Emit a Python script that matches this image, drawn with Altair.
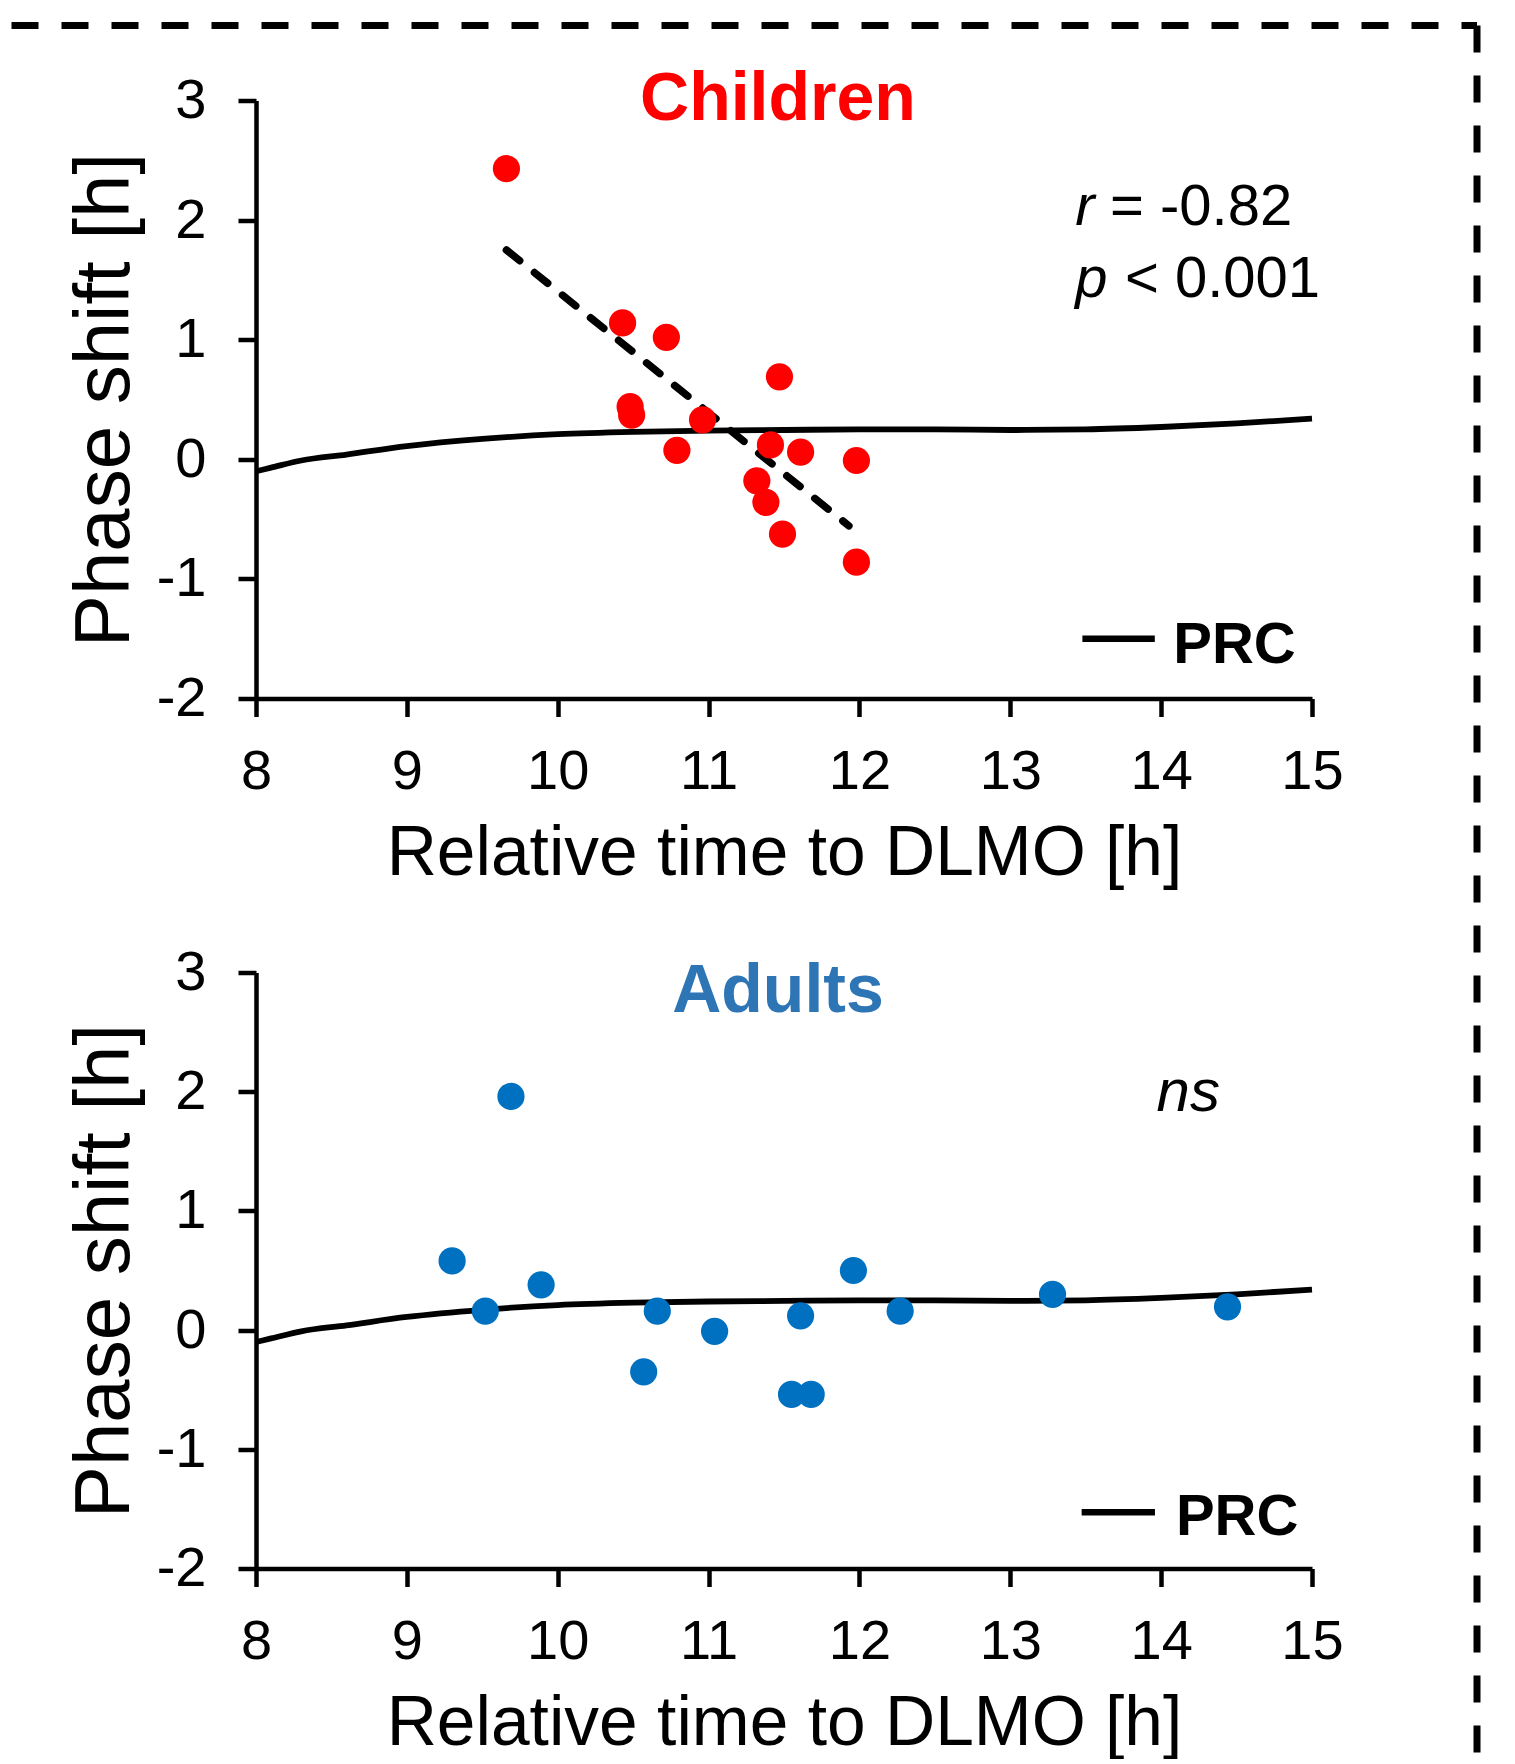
import altair as alt
import pandas as pd

FONT = "Liberation Sans"

# ---------------- data ----------------
child_x = [9.66, 10.43, 10.72, 11.47, 10.48, 10.49, 10.96, 10.79, 11.41, 11.61, 11.98, 11.32, 11.38, 11.49, 11.98]
child_y = [2.43, 1.14, 1.02, 0.69, 0.44, 0.37, 0.33, 0.075, 0.12, 0.06, -0.01, -0.18, -0.36, -0.625, -0.86]

adult_x = [9.69, 9.30, 9.89, 9.52, 10.66, 11.04, 10.57, 11.61, 11.96, 12.27, 11.55, 11.68, 13.28, 14.44]
adult_y = [1.96, 0.58, 0.38, 0.16, 0.16, -0.01, -0.35, 0.12, 0.50, 0.16, -0.54, -0.54, 0.30, 0.195]

prc_x = [8.0, 8.1, 8.3, 8.6, 9.0, 9.5, 10.0, 10.5, 11.0, 11.5, 12.0, 12.5, 13.0, 13.5, 14.0, 14.5, 15.0]
prc_y = [-0.10, -0.07, -0.01, 0.04, 0.11, 0.17, 0.21, 0.23, 0.24, 0.245, 0.25, 0.25, 0.245, 0.25, 0.27, 0.30, 0.34]

fit_x = [9.66, 11.93]
fit_y = [1.75, -0.556]

x_ticks = [8, 9, 10, 11, 12, 13, 14, 15]
y_ticks = [-2, -1, 0, 1, 2, 3]

# annotations (data coordinates)
children_label = ["Children", 11.46, 2.833]
adults_label = ["Adults", 11.46, 2.667]
stat_italic = ["r", "p"]
stat_rest = ["= -0.82", "< 0.001"]
stat_italic_x = [13.43, 13.43]
stat_rest_x = [13.661, 13.76]
stat_y = [1.955, 1.353]
ns_label = ["ns", 13.97, 1.842]
legend_top = {"x1": 13.478, "x2": 13.958, "y": -1.50, "tx": 14.08, "ty": -1.699}
legend_bottom = {"x1": 13.473, "x2": 13.959, "y": -1.528, "tx": 14.098, "ty": -1.723}

W = 1056
H_TOP = 598
H_BOT = 596

xscale = alt.Scale(domain=[8, 15], nice=False, zero=False)
yscale = alt.Scale(domain=[-2, 3], nice=False, zero=False)

x_axis = alt.Axis(values=x_ticks, labelExpr="'' + datum.value", labelPadding=28, labelFlush=False,
                  title="Relative time to DLMO [h]",
                  titleFontSize=69.5, titleX=W / 2, titleY=176, titleBaseline="alphabetic",
                  titleAlign="center")


def y_axis(h):
    return alt.Axis(values=y_ticks, labelExpr="'' + datum.value", labelPadding=32, labelFlush=False,
                    title="Phase shift [h]",
                    titleFontSize=78, titleX=-128, titleY=h / 2, titleBaseline="alphabetic",
                    titleAlign="center")


one = pd.DataFrame({"a": [0]})


def panel(px, py, color, h, title, title_color, legend, extra_layers):
    pts = pd.DataFrame({"x": px, "y": py})
    prc = pd.DataFrame({"x": prc_x, "y": prc_y})
    points = alt.Chart(pts).mark_circle(size=740, opacity=1, color=color).encode(
        x=alt.X("x:Q", scale=xscale, axis=x_axis),
        y=alt.Y("y:Q", scale=yscale, axis=y_axis(h)),
    )
    prc_line = alt.Chart(prc).mark_line(color="black", strokeWidth=5.8, interpolate="monotone").encode(
        x=alt.X("x:Q", scale=xscale), y=alt.Y("y:Q", scale=yscale)
    )
    ttl = alt.Chart(pd.DataFrame({"t": [title[0]], "x": [title[1]], "y": [title[2]]})).mark_text(
        font=FONT, fontSize=68, fontWeight="bold", color=title_color, align="center", baseline="alphabetic"
    ).encode(x=alt.X("x:Q", scale=xscale), y=alt.Y("y:Q", scale=yscale), text="t:N")
    leg_df = pd.DataFrame({"x": [legend["x1"]], "x2": [legend["x2"]], "y": [legend["y"]],
                           "tx": [legend["tx"]], "ty": [legend["ty"]], "t": ["PRC"]})
    leg_line = alt.Chart(leg_df).mark_rule(color="black", strokeWidth=6.5).encode(
        x=alt.X("x:Q", scale=xscale), x2="x2:Q", y=alt.Y("y:Q", scale=yscale)
    )
    leg_text = alt.Chart(leg_df).mark_text(
        font=FONT, fontSize=58, fontWeight="bold", color="black", align="left", baseline="alphabetic"
    ).encode(x=alt.X("tx:Q", scale=xscale), y=alt.Y("ty:Q", scale=yscale), text="t:N")
    layers = [prc_line] + extra_layers + [points, ttl, leg_line, leg_text]
    return alt.layer(*layers).properties(width=W, height=h)


# top-panel extras
fit_df = pd.DataFrame({"x": fit_x, "y": fit_y})
fit_line = alt.Chart(fit_df).mark_line(color="black", strokeWidth=7.5, strokeDash=[17, 19], strokeCap="round").encode(
    x=alt.X("x:Q", scale=xscale), y=alt.Y("y:Q", scale=yscale)
)
stat_df = pd.DataFrame({"t1": stat_italic, "t2": stat_rest, "x1": stat_italic_x, "x2": stat_rest_x, "y": stat_y})
stat_it = alt.Chart(stat_df).mark_text(font=FONT, fontSize=58, fontStyle="italic", color="black",
                                       align="left", baseline="alphabetic").encode(
    x=alt.X("x1:Q", scale=xscale), y=alt.Y("y:Q", scale=yscale), text="t1:N")
stat_rt = alt.Chart(stat_df).mark_text(font=FONT, fontSize=58, color="black",
                                       align="left", baseline="alphabetic").encode(
    x=alt.X("x2:Q", scale=xscale), y=alt.Y("y:Q", scale=yscale), text="t2:N")
border_top = alt.Chart(one).mark_rule(color="black", strokeWidth=7, strokeDash=[27, 23]).encode(
    x=alt.value(-244.5), x2=alt.value(1221), y=alt.value(-75)
)

top = panel(child_x, child_y, "#FF0000", H_TOP, children_label, "#FF0000", legend_top,
            [fit_line, stat_it, stat_rt, border_top])

# bottom-panel extras
ns_text = alt.Chart(pd.DataFrame({"t": [ns_label[0]], "x": [ns_label[1]], "y": [ns_label[2]]})).mark_text(
    font=FONT, fontSize=60, fontStyle="italic", color="black", align="left", baseline="alphabetic"
).encode(x=alt.X("x:Q", scale=xscale), y=alt.Y("y:Q", scale=yscale), text="t:N")
border_right = alt.Chart(one).mark_rule(color="black", strokeWidth=7, strokeDash=[27, 23]).encode(
    x=alt.value(1221), y=alt.value(-947), y2=alt.value(780)
)

bottom = panel(adult_x, adult_y, "#0070C0", H_BOT, adults_label, "#2E75B6", legend_bottom,
               [ns_text, border_right])

chart = alt.vconcat(top, bottom, spacing=274, bounds="flush").properties(
    padding={"left": 0, "top": 13.5, "right": 0, "bottom": 0},
    autosize=alt.AutoSizeParams(type="pad"),
).configure_view(stroke=None).configure_axis(
    grid=False,
    domainColor="black", domainWidth=4.5,
    tickColor="black", tickWidth=4.5, tickSize=18,
    labelFont=FONT, labelFontSize=56, labelColor="black",
    titleFont=FONT, titleColor="black", titleFontWeight="normal",
)

chart.save("out.html", embed_options={"renderer": "svg", "actions": False})
